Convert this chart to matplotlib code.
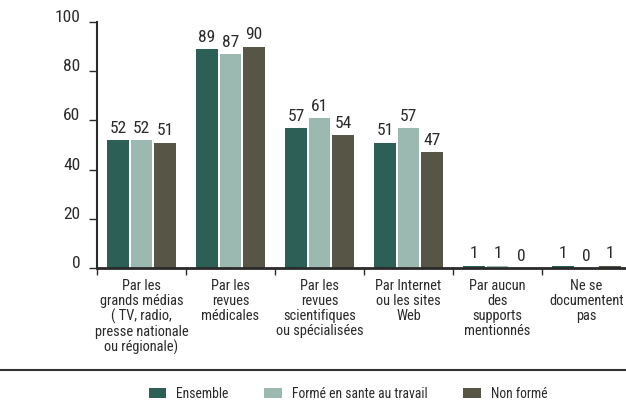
import numpy as np
import matplotlib
matplotlib.use("Agg")
import matplotlib.pyplot as plt
from matplotlib import font_manager
from matplotlib.patches import Patch

# prefer a narrow / condensed face, otherwise Roboto
files = font_manager.findSystemFonts()
narrow = [f for f in files
          if ("condensed" in f.lower() or "narrow" in f.lower())
          and "bold" not in f.lower() and "italic" not in f.lower()
          and "oblique" not in f.lower() and "light" not in f.lower()
          and "mono" not in f.lower()]
narrow.sort(key=lambda f: (0 if "Roboto" in f else 1 if "Liberation" in f else 2))
if narrow:
    font_manager.fontManager.addfont(narrow[0])
    fam = font_manager.FontProperties(fname=narrow[0]).get_name()
    plt.rcParams["font.family"] = [fam, "DejaVu Sans"]
    plt.rcParams["font.stretch"] = "condensed"
    scale = 1.0
else:
    plt.rcParams["font.family"] = ["Roboto", "DejaVu Sans"]
    scale = 0.82

categories = [
    "Par les\ngrands médias\n( TV, radio,\npresse nationale\nou régionale)",
    "Par les\nrevues\nmédicales",
    "Par les\nrevues\nscientifiques\nou spécialisées",
    "Par Internet\nou les sites\nWeb",
    "Par aucun\ndes\nsupports\nmentionnés",
    "Ne se\ndocumentent\npas",
]
series_names = ["Ensemble", "Formé en sante au travail", "Non formé"]
ensemble = [52, 89, 57, 51, 1, 1]
forme = [52, 87, 61, 57, 1, 0]
non_forme = [51, 90, 54, 47, 0, 1]
yticks = [0, 20, 40, 60, 80, 100]

colors = ["#2c5f56", "#9bb8b1", "#575646"]
text_color = "#2a2a2a"

fig = plt.figure(figsize=(6.26, 4.01), dpi=100)
ax = fig.add_axes([97 / 626, 133 / 401, 534 / 626, 246 / 401])

x = np.arange(len(categories)) + 0.5
width = 0.247
step = 0.264
for i, (vals, col) in enumerate(zip([ensemble, forme, non_forme], colors)):
    pos = x + (i - 1) * step
    bars = ax.bar(pos, vals, width, color=col, linewidth=0)
    for b, v in zip(bars, vals):
        ax.annotate(str(v), (b.get_x() + b.get_width() / 2, v),
                    xytext=(0, 3), textcoords="offset points",
                    ha="center", va="bottom", fontsize=12.5 * scale,
                    color=text_color)

ax.set_xlim(0, 6)
ax.set_ylim(0, 100)
ax.set_yticks(yticks)
ax.set_yticklabels([str(t) for t in yticks])
for lab in ax.get_yticklabels():
    lab.set_verticalalignment("baseline")
ax.tick_params(axis="y", length=6, width=1, pad=6, labelsize=12.5 * scale,
               colors=text_color)

ax.set_xticks(x)
ax.set_xticklabels(categories, fontsize=10.4 * scale, linespacing=1.08,
                   color=text_color)
ax.tick_params(axis="x", which="major", length=0, pad=8)
ax.set_xticks(np.arange(0, 7), minor=True)
ax.tick_params(axis="x", which="minor", length=5, width=1, color=text_color)

for s in ["top", "right"]:
    ax.spines[s].set_visible(False)
ax.spines["left"].set_linewidth(1.5)
ax.spines["left"].set_color(text_color)
ax.spines["bottom"].set_linewidth(2)
ax.spines["bottom"].set_color(text_color)

# separator above the legend
fig.add_artist(plt.Line2D([0, 1], [1 - 370 / 401] * 2, color="#333333",
                          linewidth=1.5, transform=fig.transFigure))

handles = [Patch(facecolor=c, edgecolor="none") for c in colors]
fig.legend(handles, series_names, loc="center", bbox_to_anchor=(0.556, 7 / 401),
           ncol=3, frameon=False, fontsize=9.8 * scale, handlelength=1.3,
           handleheight=0.7, handletextpad=0.75, columnspacing=2.6,
           labelcolor=text_color)

fig.savefig("out.png", dpi=100)
